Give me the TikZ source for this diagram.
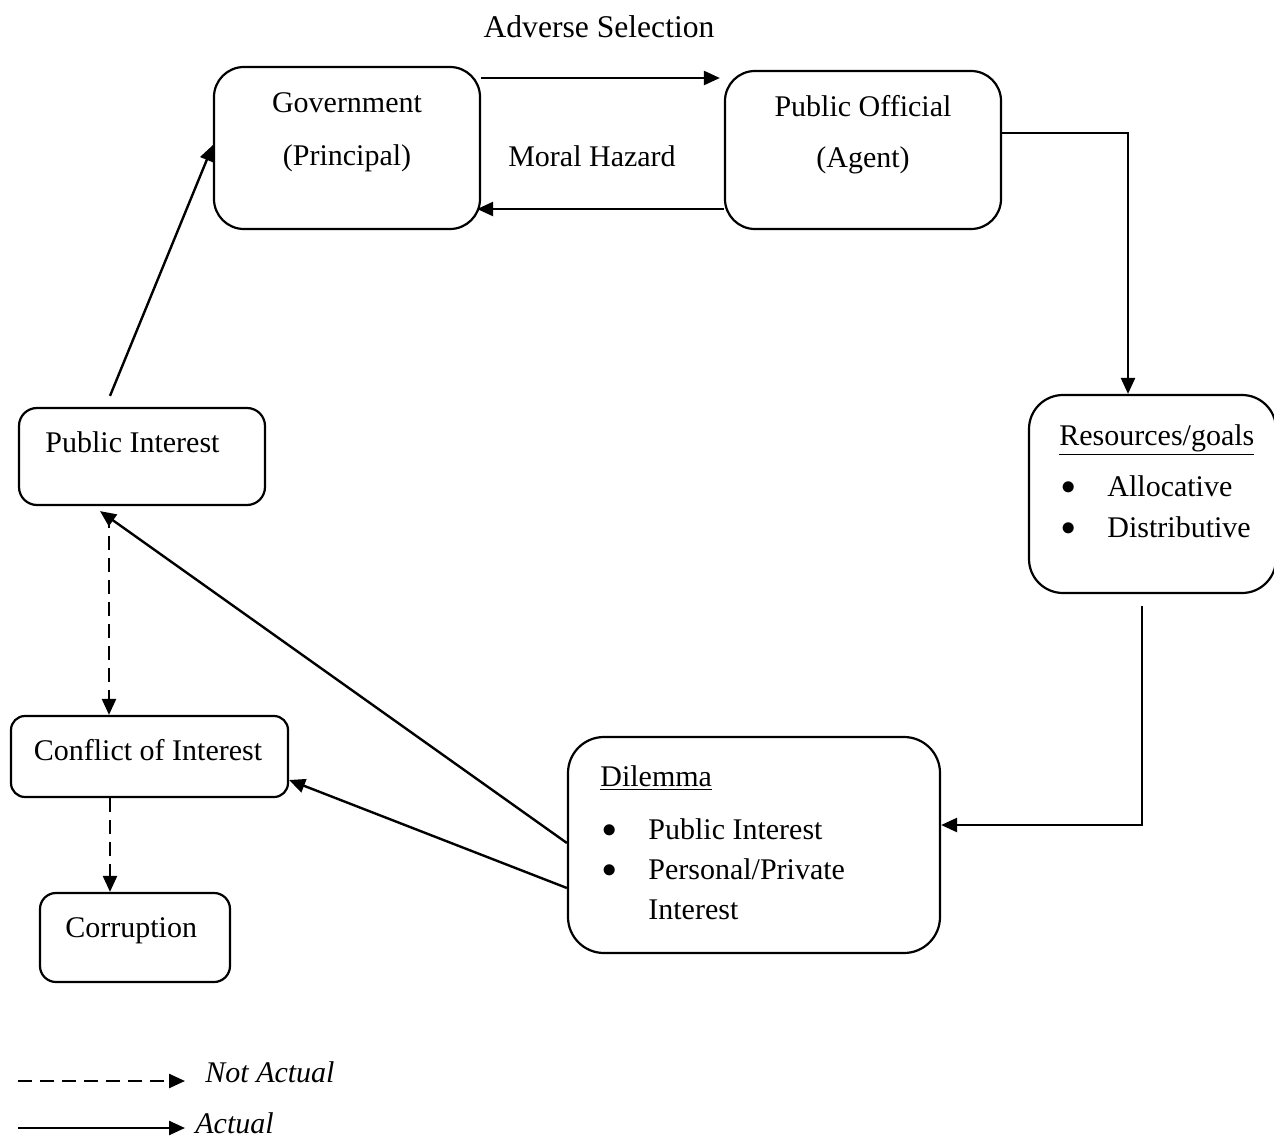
\documentclass[tikz,border=0pt]{standalone}
\usepackage{fontspec}
\setmainfont{Liberation Serif}
\usetikzlibrary{arrows.meta}
\newcommand{\bigbul}{$\bullet$}
\begin{document}
\begin{tikzpicture}[x=0.5pt,y=-0.5pt,
  box/.style={draw,line width=1.1pt,inner sep=0pt},
  lbl/.style={font=\fontsize{15}{18}\selectfont,inner sep=0pt},
  conn/.style={line width=1.2pt,-{Triangle[length=8pt,width=7pt]}},
  nconn/.style={conn,dash pattern=on 7pt off 4pt}]
\useasboundingbox (0,0) rectangle (1274,1139);
\clip (0,0) rectangle (1274,1139);
% boxes
\node[box,rounded corners=15pt,minimum width=133pt,minimum height=81pt] (gov) at (347,148) {};
\node[box,rounded corners=15pt,minimum width=138pt,minimum height=79pt] (pof) at (863,150) {};
\node[box,rounded corners=17pt,minimum width=123.5pt,minimum height=99pt] (res) at (1152.5,494) {};
\node[box,rounded corners=18pt,minimum width=186pt,minimum height=108pt] (dil) at (754,845) {};
\node[box,rounded corners=9pt,minimum width=123pt,minimum height=48.5pt] (pub) at (142,456.5) {};
\node[box,rounded corners=7pt,minimum width=138.5pt,minimum height=40.5pt] (conf) at (149.5,756.5) {};
\node[box,rounded corners=8pt,minimum width=95pt,minimum height=44.5pt] (corr) at (135,937.5) {};
% texts
\node[lbl,anchor=base,font=\fontsize{15.8}{18}\selectfont] (adv) at (599,38) {Adverse Selection};
\node[lbl,anchor=base] (govt) at (347,113) {Government};
\node[lbl,anchor=base] (govp) at (347,166) {(Principal)};
\node[lbl,anchor=base] (poft) at (863,117) {Public Official};
\node[lbl,anchor=base] (pofa) at (863,168) {(Agent)};
\node[lbl,anchor=base] (mh) at (592,167) {Moral Hazard};
\node[lbl,anchor=base west] (rest) at (1059,445) {\underline{Resources/goals}};
\node[lbl,anchor=base west] (rb1) at (1061,494) {\bigbul};
\node[lbl,anchor=base west] (rb2) at (1061,535) {\bigbul};
\node[lbl,anchor=base west] (ra) at (1107,496) {Allocative};
\node[lbl,anchor=base west] (rd) at (1107,537) {Distributive};
\node[lbl,anchor=base west] (dilt) at (600,786) {\underline{Dilemma}};
\node[lbl,anchor=base west] (db1) at (602,837) {\bigbul};
\node[lbl,anchor=base west] (db2) at (602,877) {\bigbul};
\node[lbl,anchor=base west] (d1) at (648,839) {Public Interest};
\node[lbl,anchor=base west] (d2) at (648,879) {Personal/Private};
\node[lbl,anchor=base west] (d3) at (648,919) {Interest};
\node[lbl,anchor=base west] (pubt) at (45,452) {Public Interest};
\node[lbl,anchor=base] (conft) at (148,760) {Conflict of Interest};
\node[lbl,anchor=base west] (corrt) at (65,937) {Corruption};
\node[lbl,anchor=base west,font=\fontsize{15}{18}\selectfont\itshape] (na) at (205,1082) {Not Actual};
\node[lbl,anchor=base west,font=\fontsize{15}{18}\selectfont\itshape] (ac) at (195,1133) {Actual};
% connectors
\draw[conn] ([yshift=35pt]gov.east) -- ([yshift=36pt,xshift=-2pt]pof.west);
\draw[conn] ([yshift=-29.5pt]pof.west) -- ([yshift=-30.5pt,xshift=-2pt]gov.east);
\draw[conn] ([yshift=8.5pt]pof.east) -| ([xshift=-12.25pt]res.north);
\draw[conn] ([xshift=-5.25pt,yshift=-6pt]res.south) |- ([yshift=10pt]dil.east);
\draw[conn] ([yshift=1pt]dil.west) -- ([xshift=-21pt,yshift=-2.5pt]pub.south);
\draw[conn] ([yshift=-21.5pt]dil.west) -- ([yshift=-11.75pt]conf.east);
\draw[conn] ([xshift=-16pt,yshift=5.5pt]pub.north) -- ([yshift=1.5pt]gov.west);
\draw[nconn] ([xshift=-16.5pt,yshift=-4pt]pub.south) -- ([xshift=-20.25pt]conf.north);
\draw[nconn] ([xshift=-19.75pt]conf.south) -- ([xshift=-12.5pt]corr.north);
% legend
\coordinate (l1) at (18,1081);
\coordinate (l2) at (18,1128);
\draw[nconn] (l1) -- ([xshift=-10pt,yshift=0.5pt]na.base west);
\draw[conn] (l2) -- ([xshift=-5pt,yshift=2.5pt]ac.base west);
\end{tikzpicture}
\end{document}
